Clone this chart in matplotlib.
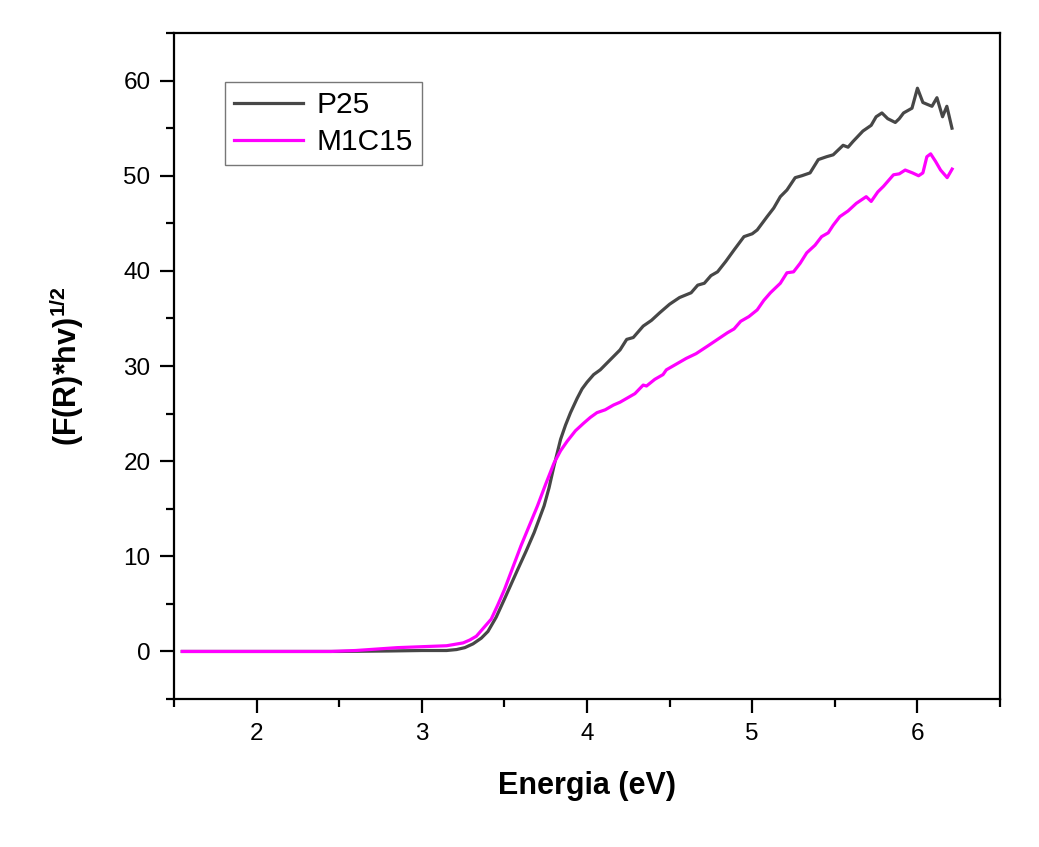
import matplotlib
matplotlib.use('Agg')
import matplotlib.pyplot as plt

plt.rcParams['font.family'] = ['Liberation Sans', 'DejaVu Sans']
plt.rcParams['mathtext.fontset'] = 'custom'
plt.rcParams['mathtext.rm'] = 'Liberation Sans'
plt.rcParams['mathtext.bf'] = 'Liberation Sans:bold'

# P25 curve (energy in eV, (F(R)*hv)^1/2)
x_p25 = [1.55, 2.0, 2.5, 2.8, 3.0, 3.15, 3.21, 3.26, 3.31, 3.36, 3.40, 3.45, 3.50,
         3.58, 3.63, 3.68, 3.74, 3.77, 3.80, 3.84, 3.87, 3.90, 3.94, 3.97, 4.00,
         4.04, 4.08, 4.12, 4.16, 4.20, 4.24, 4.28, 4.34, 4.39, 4.44, 4.50, 4.56,
         4.63, 4.67, 4.71, 4.75, 4.79, 4.84, 4.89, 4.95, 5.00, 5.03, 5.09, 5.13,
         5.17, 5.21, 5.26, 5.30, 5.35, 5.40, 5.45, 5.49, 5.55, 5.58, 5.61, 5.67,
         5.72, 5.75, 5.785, 5.82, 5.866, 5.89, 5.916, 5.967, 6.0, 6.033, 6.06,
         6.088, 6.118, 6.152, 6.178, 6.209]
y_p25 = [0.0, 0.0, 0.0, 0.05, 0.1, 0.1, 0.2, 0.4, 0.8, 1.4, 2.1, 3.6, 5.5,
         8.6, 10.5, 12.5, 15.3, 17.2, 19.5, 22.3, 23.8, 25.1, 26.6, 27.6, 28.3,
         29.1, 29.6, 30.3, 31.0, 31.7, 32.8, 33.0, 34.2, 34.8, 35.6, 36.5, 37.2,
         37.7, 38.5, 38.7, 39.5, 39.9, 41.0, 42.2, 43.6, 43.9, 44.3, 45.7, 46.6,
         47.8, 48.5, 49.8, 50.0, 50.3, 51.7, 52.0, 52.2, 53.2, 53.0, 53.6, 54.7,
         55.3, 56.2, 56.6, 56.0, 55.6, 56.0, 56.6, 57.1, 59.2, 57.7, 57.5,
         57.3, 58.2, 56.2, 57.3, 55.0]

# M1C15 curve
x_m1c15 = [1.55, 2.0, 2.45, 2.6, 2.85, 3.0, 3.15, 3.25, 3.29, 3.33, 3.37, 3.42,
           3.46, 3.50, 3.55, 3.60, 3.65, 3.70, 3.75, 3.80, 3.84, 3.88, 3.93,
           3.98, 4.02, 4.06, 4.11, 4.16, 4.20, 4.24, 4.29, 4.34, 4.36, 4.41,
           4.46, 4.48, 4.55, 4.60, 4.66, 4.73, 4.79, 4.85, 4.89, 4.93, 4.98,
           5.03, 5.07, 5.11, 5.17, 5.21, 5.25, 5.29, 5.33, 5.38, 5.42, 5.46,
           5.49, 5.53, 5.58, 5.63, 5.69, 5.72, 5.76, 5.795, 5.855, 5.89, 5.926,
           5.97, 6.007, 6.033, 6.057, 6.08, 6.11, 6.14, 6.18, 6.21]
y_m1c15 = [0.0, 0.0, 0.0, 0.1, 0.4, 0.5, 0.6, 0.9, 1.2, 1.6, 2.4, 3.4,
           4.9, 6.5, 8.8, 11.1, 13.2, 15.3, 17.6, 19.8, 21.1, 22.1, 23.2,
           24.0, 24.6, 25.1, 25.4, 25.9, 26.2, 26.6, 27.1, 28.0, 27.9, 28.6,
           29.1, 29.6, 30.3, 30.8, 31.3, 32.1, 32.8, 33.5, 33.9, 34.7, 35.2,
           35.9, 36.9, 37.7, 38.7, 39.8, 39.9, 40.8, 41.9, 42.7, 43.6, 44.0,
           44.8, 45.7, 46.3, 47.1, 47.8, 47.3, 48.3, 48.9, 50.1, 50.2, 50.6,
           50.3, 50.0, 50.3, 52.0, 52.3, 51.5, 50.6, 49.8, 50.7]

fig = plt.figure(figsize=(10.39, 8.47), dpi=100)
ax = fig.add_axes([0.1675, 0.1747, 0.795, 0.7863])

ax.plot(x_p25, y_p25, color='#474747', lw=2.3, label='P25')
ax.plot(x_m1c15, y_m1c15, color='#ff00ff', lw=2.3, label='M1C15')

ax.set_xlim(1.5, 6.5)
ax.set_ylim(-5, 65)
ax.set_xticks([2, 3, 4, 5, 6])
ax.set_xticks([1.5, 2.5, 3.5, 4.5, 5.5, 6.5], minor=True)
ax.set_yticks([0, 10, 20, 30, 40, 50, 60])
ax.set_yticks([-5, 5, 15, 25, 35, 45, 55, 65], minor=True)

for s in ax.spines.values():
    s.set_linewidth(1.6)
ax.tick_params(which='major', direction='out', length=10, width=1.6,
               labelsize=17.5, pad=7)
ax.tick_params(which='minor', direction='out', length=5.5, width=1.6)

ax.set_xlabel('Energia (eV)', fontsize=22, fontweight='bold', labelpad=19)
ax.set_ylabel(r'(F(R)*hv)$^{\mathbf{1/2}}$', fontsize=22, fontweight='bold',
              labelpad=27)

leg = ax.legend(loc='upper left', bbox_to_anchor=(0.062, 0.926), fontsize=21.5,
                frameon=True, fancybox=False, handlelength=2.3,
                handletextpad=0.45, borderpad=0.3, borderaxespad=0,
                labelspacing=0.3)
leg.get_frame().set_edgecolor('#555555')
leg.get_frame().set_linewidth(1.0)

fig.savefig('out.png', dpi=100)
